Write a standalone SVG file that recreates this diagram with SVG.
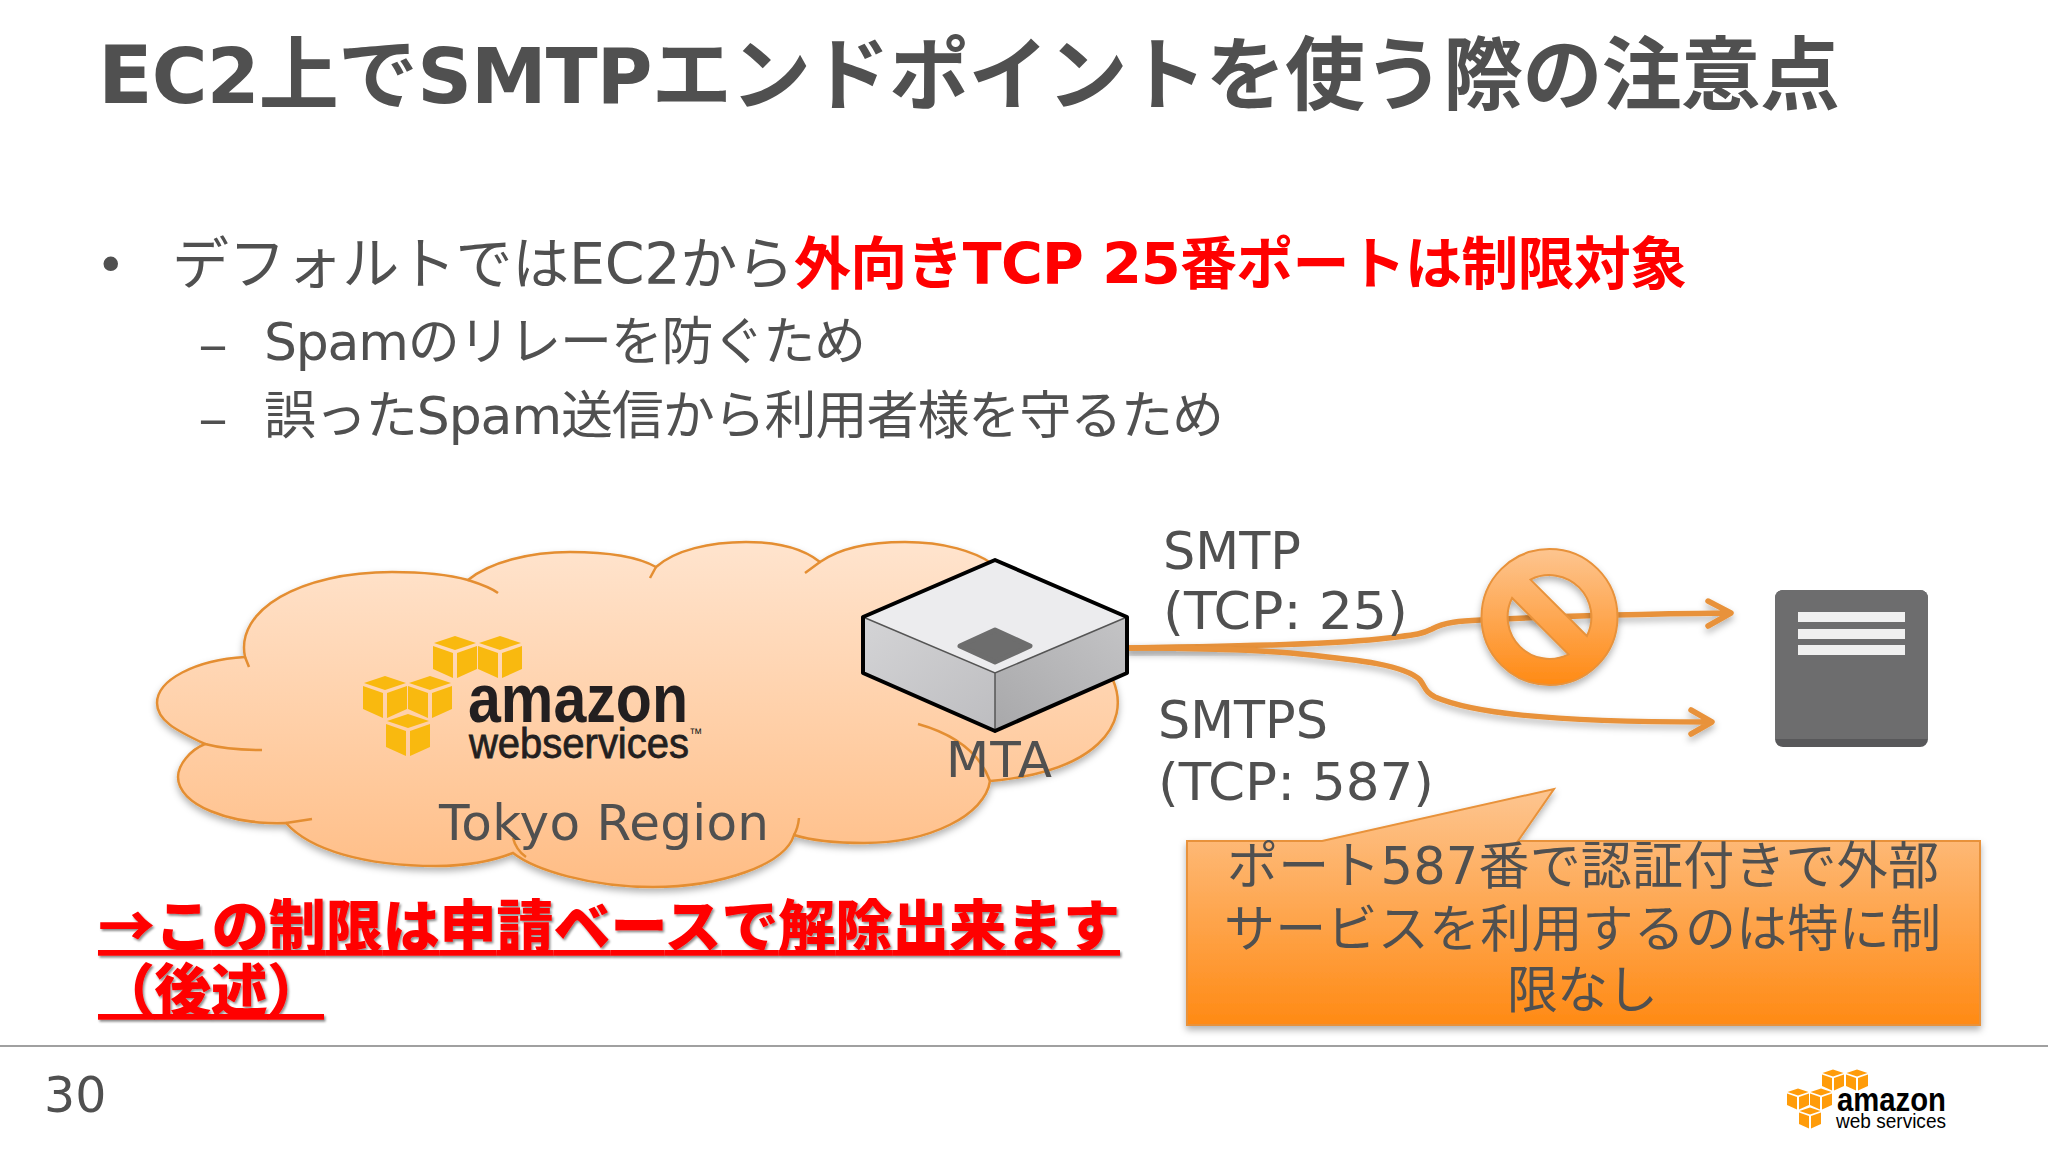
<svg xmlns="http://www.w3.org/2000/svg" width="2048" height="1152" viewBox="0 0 2048 1152">
<style>
text{font-family:"DejaVu Sans","Noto Sans CJK JP",sans-serif;fill:#505050}
.b{font-weight:700}
.red{fill:#ff0000;font-weight:700}
.note{font-family:"Noto Sans CJK JP",sans-serif;font-weight:900;font-size:57px}
.lbl{font-size:52px}
.call{font-size:51px}
.cloudline{fill:none;stroke:#e48e32;stroke-width:2.5}
.logo{font-family:"Liberation Sans",sans-serif;fill:#231f20}
.conn{fill:none;stroke:#e8923a;stroke-width:5.5;stroke-linecap:round;stroke-linejoin:round}
</style>
<defs>
<linearGradient id="cloudG" x1="0" y1="0" x2="0" y2="1"><stop offset="0" stop-color="#ffe4ce"/><stop offset="1" stop-color="#ffbd85"/></linearGradient>
<linearGradient id="orangeG" x1="0" y1="0" x2="0" y2="1"><stop offset="0" stop-color="#fdc590"/><stop offset="1" stop-color="#ff8a14"/></linearGradient>
<linearGradient id="leftG" x1="0" y1="0" x2="1" y2="1"><stop offset="0" stop-color="#d4d4d6"/><stop offset="1" stop-color="#bdbdc0"/></linearGradient>
<linearGradient id="rightG" x1="0" y1="1" x2="1" y2="0"><stop offset="0" stop-color="#a8a8aa"/><stop offset="1" stop-color="#c4c4c6"/></linearGradient>
<filter id="sh" x="-10%" y="-10%" width="120%" height="125%"><feDropShadow dx="0" dy="4" stdDeviation="3.5" flood-color="#000" flood-opacity=".3"/></filter>
<filter id="shText" x="-5%" y="-10%" width="110%" height="125%"><feDropShadow dx="1.5" dy="2" stdDeviation="1" flood-color="#000" flood-opacity=".45"/></filter>
<g id="cube">
<polygon points="0,-21 21,-14 0,-7 -21,-14"/>
<polygon points="-22,-11 -2,-4 -2,21 -22,12"/>
<polygon points="22,-11 2,-4 2,21 22,12"/>
</g>
</defs>
<rect width="2048" height="1152" fill="#fff"/>

<g id="title">
<text class="b" x="98" y="103" font-size="80" textLength="1742">E<tspan font-size="76">C2</tspan>上で<tspan font-size="76">SMTP</tspan>エンドポイントを使う際の注意点</text>
</g>

<g id="bullets">
<text x="96" y="282" font-size="50">•</text>
<text x="172" y="284" font-size="57" textLength="622">デフォルトではEC2から</text>
<text class="red" x="794" y="284" font-size="57" textLength="893">外向きTCP 25番ポートは制限対象</text>
<text x="198" y="362" font-size="50" textLength="30" lengthAdjust="spacingAndGlyphs">–</text>
<text x="264" y="360" font-size="52" textLength="602">Spamのリレーを防ぐため</text>
<text x="198" y="436" font-size="50" textLength="30" lengthAdjust="spacingAndGlyphs">–</text>
<text x="264" y="434" font-size="52" textLength="960">誤ったSpam送信から利用者様を守るため</text>
</g>

<g id="cloud">
<path filter="url(#sh)" fill="url(#cloudG)" stroke="#e48e32" stroke-width="2.5" d="M205 744C175 730 157 720 157 703C157 680 195 660 245 657C235 610 300 572 392 572C425 572 450 575 468 580C490 562 530 552 570 552C610 552 640 558 656 567C675 550 710 542 746 542C780 542 805 550 820 562C840 548 870 542 905 542C945 542 975 552 991 563C1040 590 1105 640 1113 680C1132 725 1095 772 990 781C985 815 930 843 864 843C835 843 810 840 794 835C785 865 720 887 653 887C590 887 535 870 513 853C490 862 465 866 436 866C365 866 310 850 286 823C230 825 178 805 178 777C178 765 190 750 205 744Z"/>
<path class="cloudline" d="M205 744Q228 750 262 750M245 657L249 667M468 580Q490 587 498 593M656 567L650 578M820 562L805 573M918 724Q975 740 990 781M799 818Q798 828 794 835M286 823L312 819M513 838Q516 850 526 857"/>
<text x="439" y="840" font-size="50" textLength="330">Tokyo Region</text>
</g>

<g id="aws-logo" fill="#f9b90f">
<use href="#cube" x="455" y="657"/>
<use href="#cube" x="500" y="657"/>
<use href="#cube" x="385" y="697"/>
<use href="#cube" x="430" y="697"/>
<use href="#cube" x="408" y="735"/>
<text class="logo b" x="468" y="722" font-size="68" textLength="220" lengthAdjust="spacingAndGlyphs">amazon</text>
<text class="logo" x="469" y="758" font-size="43" textLength="233" lengthAdjust="spacingAndGlyphs" stroke="#231f20" stroke-width=".8">webservices<tspan font-size="14" dy="-20" stroke="none">™</tspan></text>
</g>

<g id="connectors">
<path class="conn" filter="url(#sh)" d="M1128 648C1250 646 1340 644 1388 638C1412 635 1420 635 1432 629C1445 622 1460 621 1481 620C1560 616 1640 614 1728 613M1708 601L1731 613L1708 626"/>
<path class="conn" filter="url(#sh)" d="M1128 648C1200 648 1250 649 1300 654C1360 660 1405 665 1420 680C1426 688 1425 692 1435 697C1470 712 1540 722 1709 722M1691 710L1712 722L1691 734"/>
</g>

<g id="mta">
<polygon points="995,560 1127,617 995,673 863,617" fill="#ececee"/>
<polygon points="863,617 995,673 995,731 863,673" fill="url(#leftG)"/>
<polygon points="1127,617 995,673 995,731 1127,673" fill="url(#rightG)"/>
<path d="M863 617L995 673L1127 617M995 673V731" fill="none" stroke="#555" stroke-width="1.5"/>
<polygon points="995,560 1127,617 1127,673 995,731 863,673 863,617" fill="none" stroke="#000" stroke-width="4" stroke-linejoin="round"/>
<path d="M960 646L995 630L1030 646L995 662Z" fill="#6d6d6d" stroke="#6d6d6d" stroke-width="5" stroke-linejoin="round"/>
<text x="946" y="777" font-size="50" textLength="106">MTA</text>
</g>

<g id="no-symbol" transform="translate(-2.5 -1)">
<path filter="url(#sh)" fill="url(#orangeG)" stroke="#e8923a" stroke-width="2" fill-rule="evenodd" d="M1484 618A68 68 0 1 1 1620 618A68 68 0 1 1 1484 618ZM1533 580.6A42 42 0 0 1 1589.4 637ZM1571 655.4A42 42 0 0 1 1514.6 599Z"/>
</g>

<g id="server">
<rect x="1775" y="590" width="153" height="157" rx="8" fill="#58585a"/>
<path d="M1783 590H1920a8 8 0 0 1 8 8V739H1775V598a8 8 0 0 1 8-8Z" fill="#6d6d6e"/>
<rect x="1798" y="612" width="107" height="10" fill="#f0f0f0"/>
<rect x="1798" y="629" width="107" height="10" fill="#f0f0f0"/>
<rect x="1798" y="645" width="107" height="10" fill="#f0f0f0"/>
</g>

<g id="port-labels">
<text class="lbl" x="1163" y="569" textLength="138" lengthAdjust="spacingAndGlyphs">SMTP</text>
<text class="lbl" x="1163" y="629" textLength="245" lengthAdjust="spacingAndGlyphs">(TCP: 25)</text>
<text class="lbl" x="1158" y="738" textLength="170" lengthAdjust="spacingAndGlyphs">SMTPS</text>
<text class="lbl" x="1158" y="800" textLength="276" lengthAdjust="spacingAndGlyphs">(TCP: 587)</text>
</g>

<g id="callout">
<path filter="url(#sh)" fill="url(#orangeG)" stroke="#e8923a" stroke-width="2" d="M1187 841H1322L1554 789L1518 841H1980V1025H1187Z"/>
<text class="call" x="1227" y="884" textLength="712">ポート587番で認証付きで外部</text>
<text class="call" x="1224" y="947" textLength="717">サービスを利用するのは特に制</text>
<text class="call" x="1507" y="1008" textLength="151">限なし</text>
</g>

<g id="note">
<text class="red note" filter="url(#shText)" x="98" y="947" textLength="1022" text-decoration="underline">→この制限は申請ベースで解除出来ます</text>
<text class="red note" filter="url(#shText)" x="98" y="1011" textLength="226" text-decoration="underline">（後述）</text>
</g>

<g id="footer">
<rect x="0" y="1045" width="2048" height="2" fill="#a0a0a0"/>
<text x="44" y="1112" font-size="49">30</text>
</g>

<g id="aws-logo-small" fill="#ff9c0a">
<use href="#cube" transform="translate(1833 1080) scale(.5)"/>
<use href="#cube" transform="translate(1857 1080) scale(.5)"/>
<use href="#cube" transform="translate(1798 1099) scale(.5)"/>
<use href="#cube" transform="translate(1821 1099) scale(.5)"/>
<use href="#cube" transform="translate(1810 1118) scale(.5)"/>
<text class="logo b" x="1837" y="1111" font-size="33" textLength="109" lengthAdjust="spacingAndGlyphs" style="fill:#000">amazon</text>
<text class="logo" x="1836" y="1128" font-size="20" textLength="110" lengthAdjust="spacingAndGlyphs" style="fill:#000">web services</text>
</g>
</svg>
